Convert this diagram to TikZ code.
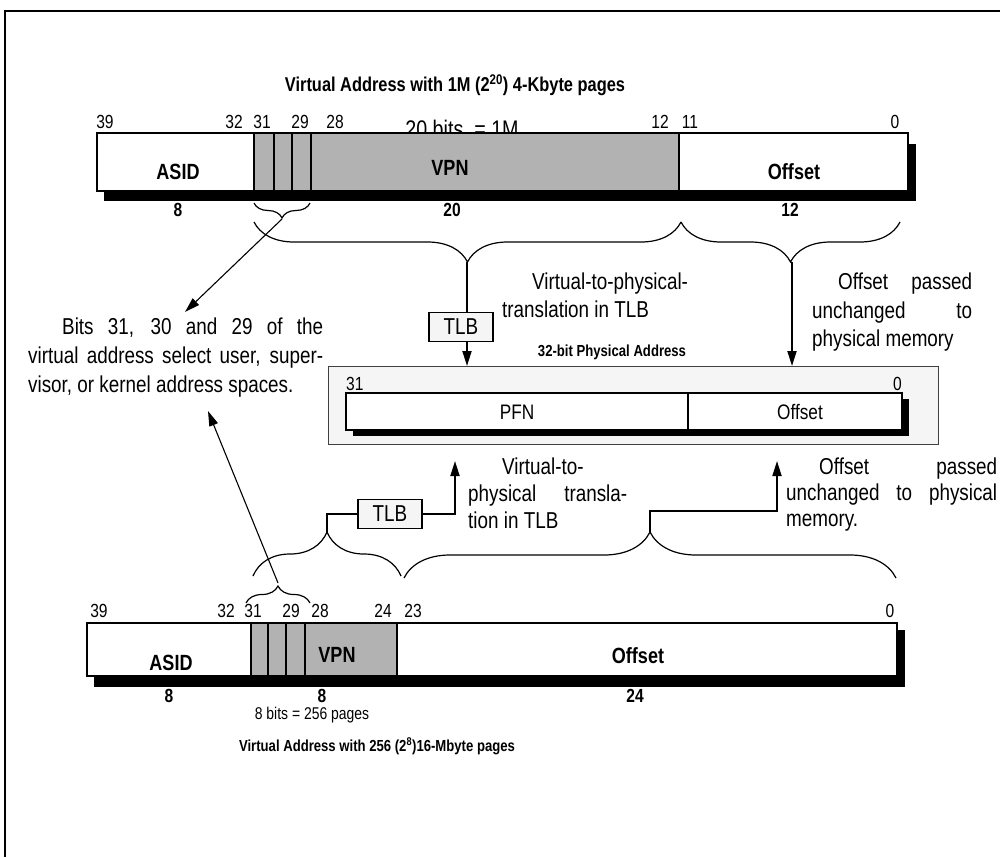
\documentclass[tikz,border=0pt]{standalone}
\usepackage{fontspec}
\setmainfont{Liberation Sans}[FakeStretch=0.82]
\usetikzlibrary{positioning,arrows.meta,decorations.pathreplacing}
\definecolor{fieldgray}{RGB}{178,178,178}
\definecolor{panelgray}{RGB}{245,245,245}
\newcommand{\fsz}[1]{\fontsize{#1}{#1}\selectfont}

\begin{document}
\begin{tikzpicture}[x=1pt,y=-1pt,
  regline/.style={line width=1.6pt},
  regshadow/.style={fill=black},
  bitno/.style={font=\fsz{19},inner sep=0pt,anchor=base},
  fieldname/.style={font=\bfseries\fsz{22},inner sep=0pt},
  fieldlen/.style={font=\bfseries\fsz{19},inner sep=0pt},
  caption/.style={font=\bfseries\fsz{20},inner sep=0pt},
  note/.style={align=justify,inner sep=0pt,anchor=north west},
  tlb/.style={draw,line width=1.6pt,fill=panelgray,font=\fsz{23},inner sep=0pt,minimum width=64pt,minimum height=29pt},
  link/.style={line width=1.8pt},
  arrowhd/.style={-{Triangle[length=15pt,width=9pt]}},
  bracedown/.style={decorate,decoration={brace,mirror,amplitude=#1},line width=1.2pt},
  braceup/.style={decorate,decoration={brace,amplitude=#1},line width=1.2pt},
]
\useasboundingbox (0,0) rectangle (1000,857);
\draw[line width=2pt] (1000,11) -- (5,11) -- (5,857);

\node[caption] (titleA) at (455,85) {Virtual Address with 1M (2\textsuperscript{20}) 4-Kbyte pages};
\foreach \n/\x in {39/105,32/234,31/262,29/300,28/335,12/660,11/690,0/895}
  \node[bitno] (ta\n) at (\x,128) {\n};
\node[font=\fsz{24},inner sep=0pt,anchor=base] (bitsA) at (462,137) {20 bits\ \ = 1M};
\fill[regshadow] (104,144) rectangle (916,201);
\fill[white] (97,133) rectangle (908,191);
\fill[fieldgray] (254,133) rectangle (679,191);
\foreach \x in {254,274,292,311,679} \draw[regline] (\x,133) -- (\x,191);
\draw[regline] (97,133) rectangle (908,191);
\node[fieldname] (asidA) at (178,172) {ASID};
\node[fieldname] (vpnA) at (450,168) {VPN};
\node[fieldname] (offA) at (794,172) {Offset};
\node[fieldlen] (lenA1) at (178,210) {8};
\node[fieldlen] (lenA2) at (452,210) {20};
\node[fieldlen] (lenA3) at (790,210) {12};

\coordinate (selAL) at (254,203);
\coordinate (selAR) at (310,203);
\coordinate (selAtip) at (282,219);
\draw[bracedown=15pt] (selAL) -- (selAR);
\coordinate (vpnAL) at (254,222);
\coordinate (vpnAR) at (681,222);
\coordinate (offAR) at (900,222);
\coordinate (vtip) at (467,262);
\coordinate (otip) at (792,262);
\draw[bracedown=40pt] (vpnAL) -- (vpnAR);
\draw[bracedown=40pt] (vpnAR) -- (offAR);

\node[note,text width=193pt,font=\fontsize{23}{28}\selectfont] (transA) at (502,273)
  {\hspace*{30pt}Virtual-to-physical-\\translation in TLB};
\node[note,text width=160pt,font=\fontsize{23}{28.5}\selectfont] (passA) at (812,273)
  {\hspace*{26pt}Offset passed\linebreak unchanged to\linebreak physical memory};
\node[note,text width=295pt,font=\fontsize{23}{29}\selectfont] (selnote) at (28,318)
  {\hspace*{34pt}Bits 31, 30 and 29 of the\linebreak virtual address select user, super-\linebreak visor, or kernel address spaces.};

\node[tlb] (tlbA) at (461,327) {TLB};

\node[draw=black!75,line width=0.9pt,fill=panelgray,minimum width=610pt,minimum height=78pt,inner sep=0pt,anchor=north west] (phys) at (328,366) {};
\node[caption,font=\bfseries\fsz{16}] (physcap) at (612,352) {32-bit Physical Address};
\fill[regshadow] (353,399) rectangle (909,436);
\fill[white] (346,393) rectangle (902,430);
\draw[regline] (346,393) rectangle (902,430);
\draw[regline] (688,393) -- (688,430);
\node[bitno,anchor=base west] (p31) at (346,390) {31};
\node[bitno,anchor=base east] (p0) at (902,390) {0};
\node[font=\fsz{21},inner sep=0pt] (pfn) at (517,412) {PFN};
\node[font=\fsz{21},inner sep=0pt] (poff) at (800,412) {Offset};

\draw[link] (vtip) -- (vtip |- tlbA.north);
\draw[link,arrowhd] (vtip |- tlbA.south) -- (vtip |- phys.north);
\draw[link,arrowhd] (otip) -- (otip |- phys.north);
\coordinate (selnoteA) at (185,312);
\draw[line width=1.1pt,arrowhd] (selAtip) -- (selnoteA);

\node[note,text width=159pt,font=\fontsize{23}{27}\selectfont] (transB) at (468,458)
  {\hspace*{34pt}Virtual-to-\\physical transla-\linebreak tion in TLB};
\node[note,text width=211pt,font=\fontsize{23}{26}\selectfont] (passB) at (786,458)
  {\hspace*{33pt}Offset passed\linebreak unchanged to physical\linebreak memory.};

\node[tlb] (tlbB) at (390,514) {TLB};
\coordinate (pfnin) at (455,461);
\coordinate (offin) at (777,461);
\coordinate (offbend) at (777,511);
\coordinate (btip) at (327,532);
\coordinate (brtip) at (650,532);
\coordinate (vpnBL) at (253,576);
\coordinate (vpnBR) at (401,576);
\coordinate (offBL) at (404,578);
\coordinate (offBR) at (896,578);
\draw[braceup=44pt] (vpnBL) -- (vpnBR);
\draw[braceup=46pt] (offBL) -- (offBR);
\draw[link] (btip) |- (tlbB.west);
\draw[link,arrowhd] (tlbB.east) -| (pfnin);
\draw[link,arrowhd] (brtip) |- (offbend) -- (offin);

\coordinate (selBL) at (246,603);
\coordinate (selBR) at (310,603);
\coordinate (selBtip) at (278,583);
\draw[braceup=17pt] (selBL) -- (selBR);
\coordinate (selnoteB) at (208,411);
\draw[line width=1.1pt,arrowhd] (selBtip) -- (selnoteB);

\foreach \n/\x in {39/99,32/226,31/253,29/291,28/320,24/383,23/413,0/890}
  \node[bitno] (tb\n) at (\x,617) {\n};
\fill[regshadow] (94,630) rectangle (905,687);
\fill[white] (87,623) rectangle (897,676);
\fill[fieldgray] (251,623) rectangle (397,676);
\foreach \x in {251,268,286,305,397} \draw[regline] (\x,623) -- (\x,676);
\draw[regline] (87,623) rectangle (897,676);
\node[fieldname] (asidB) at (171,663) {ASID};
\node[fieldname] (vpnB) at (337,655) {VPN};
\node[fieldname] (offB) at (638,656) {Offset};
\node[fieldlen] (lenB1) at (169,696) {8};
\node[fieldlen] (lenB2) at (322,696) {8};
\node[fieldlen] (lenB3) at (635,696) {24};
\node[font=\fsz{17},inner sep=0pt] (bitsB) at (312,715) {8 bits = 256 pages};
\node[caption,font=\bfseries\fsz{16}] (titleB) at (377,746) {Virtual Address with 256 (2\textsuperscript{8})16-Mbyte pages};
\end{tikzpicture}
\end{document}
